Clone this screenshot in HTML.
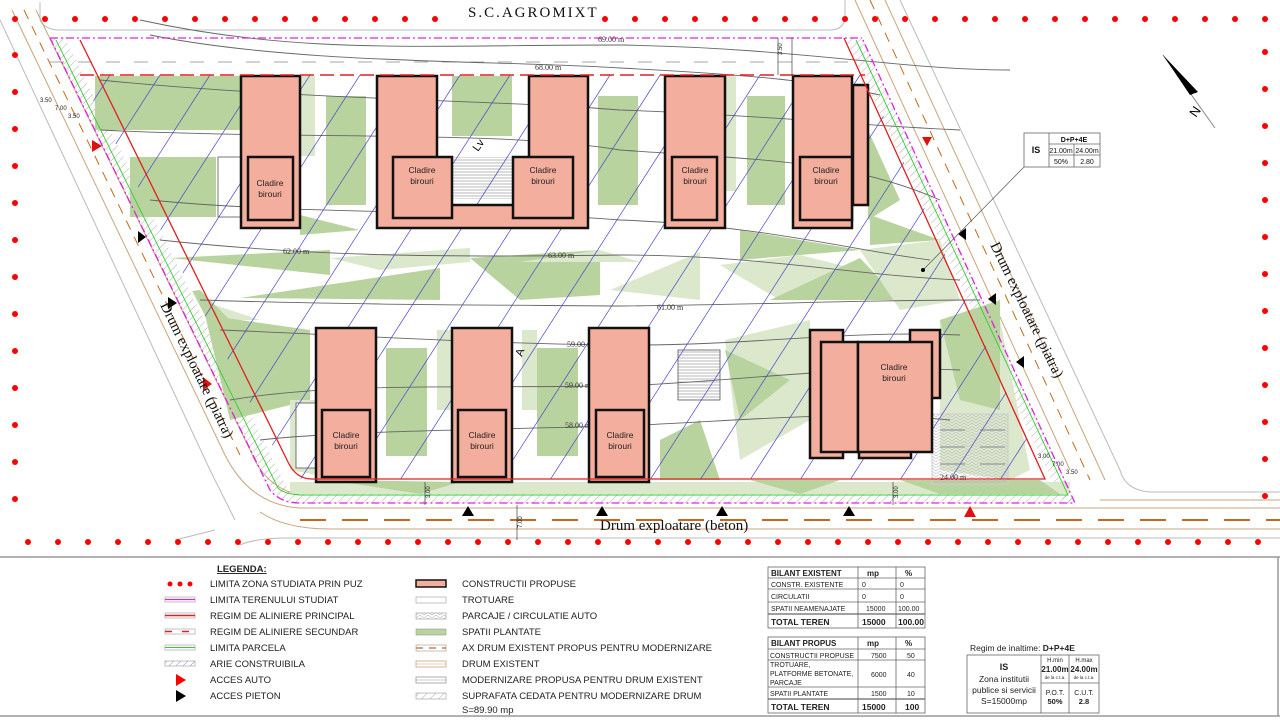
<!DOCTYPE html>
<html><head><meta charset="utf-8">
<style>
html,body{margin:0;padding:0;background:#fff;}
svg{display:block;}
.s{font-family:"Liberation Sans",Arial,sans-serif;}
.r{font-family:"Liberation Serif","Times New Roman",serif;}
</style></head>
<body>
<svg width="1280" height="720" viewBox="0 0 1280 720" xmlns="http://www.w3.org/2000/svg">
<defs>
  <clipPath id="site"><path d="M80,75 L865,75 L1045,479 L305,479 Q288,479 280,460 Z"/></clipPath>
  <pattern id="hatch" width="6" height="6" patternUnits="userSpaceOnUse" patternTransform="rotate(45)">
    <line x1="0" y1="0" x2="0" y2="6" stroke="#999" stroke-width="0.8"/></pattern>
  <pattern id="ahatch" width="5" height="5" patternUnits="userSpaceOnUse" patternTransform="rotate(45)">
    <line x1="0" y1="0" x2="0" y2="5" stroke="#6a6ad0" stroke-width="0.8"/></pattern>
  <pattern id="park" width="8" height="6" patternUnits="userSpaceOnUse">
    <path d="M0,3 L4,0 L8,3 M0,6 L4,3 L8,6" stroke="#bbb" fill="none" stroke-width="0.6"/></pattern>
  <pattern id="stairs" width="10" height="3" patternUnits="userSpaceOnUse">
    <line x1="0" y1="1" x2="10" y2="1" stroke="#999" stroke-width="0.7"/></pattern>
</defs>
<rect width="1280" height="720" fill="#fff"/>

<!-- top road -->
<path d="M40,2 L40,20 Q45,30 60,30 L830,30 Q845,30 845,15 L845,0" fill="none" stroke="#bbb" stroke-width="1"/>
<line x1="50" y1="62" x2="860" y2="62" stroke="#888" stroke-width="0.8" stroke-dasharray="14,14"/>

<!-- left diagonal road -->
<g fill="none" stroke-width="1">
  <path d="M0,20 L210,470 L235,520" stroke="#bbb"/>
  <path d="M12,10 L225,455 Q250,505 300,508 L1280,508" stroke="#c9a47a"/>
  <path d="M24,10 L240,455" stroke="#c26a1a" stroke-dasharray="10,8"/>
  <path d="M36,10 L250,450 Q265,488 300,495" stroke="#c9a47a"/>
  <path d="M300,520 L1280,520" stroke="#c26a1a" stroke-width="2" stroke-dasharray="26,16"/>
  <path d="M260,512 Q285,529 330,529 L1280,529" stroke="#c9a47a"/>
  <path d="M240,545 Q255,538 290,538 L1280,538" stroke="#bbb"/>
  <path d="M215,530 L175,540" stroke="#bbb"/>
  <!-- right road -->
  <path d="M855,0 L1070,470" stroke="#c9a47a"/>
  <path d="M870,0 L1090,480" stroke="#c26a1a" stroke-dasharray="10,8"/>
  <path d="M885,0 L1105,480" stroke="#c9a47a"/>
  <path d="M900,0 L1120,470 Q1125,490 1150,492 L1280,492" stroke="#bbb"/>
  <path d="M1100,500 L1280,500" stroke="#c9a47a"/>
</g>

<!-- site hatched strips (cedata) -->
<path d="M50,38 L65,38 L288,490 L300,492 L1068,492 L1075,503 L300,503 Q272,500 265,480 Z" fill="url(#hatch)"/>
<path d="M845,38 L862,38 L1075,503 L1060,498 Z" fill="url(#hatch)"/>

<!-- greens -->
<g>
  <rect x="95" y="76" width="145" height="54" fill="#b8d39e"/>
  <rect x="130" y="157" width="86" height="60" fill="#b8d39e"/>
  <rect x="300" y="76" width="15" height="80" fill="#dbe8cc"/>
  <rect x="326" y="96" width="40" height="109" fill="#b8d39e"/>
  <rect x="452" y="76" width="60" height="60" fill="#b8d39e"/>
  <rect x="598" y="96" width="40" height="109" fill="#b8d39e"/>
  <rect x="724" y="76" width="12" height="115" fill="#dbe8cc"/>
  <rect x="747" y="96" width="38" height="109" fill="#b8d39e"/>
  <polygon points="868,130 900,200 868,220" fill="#b8d39e"/>
  <polygon points="870,215 940,240 870,245" fill="#b8d39e"/>
  <polygon points="300,215 360,230 300,235" fill="#b8d39e"/>
  <polygon points="740,230 860,250 740,260" fill="#b8d39e"/>
  <!-- middle belt -->
  <polygon points="170,258 330,250 330,275" fill="#b8d39e"/>
  <polygon points="240,298 440,268 440,300" fill="#b8d39e"/>
  <polygon points="330,258 470,248 470,262 380,270" fill="#dbe8cc"/>
  <polygon points="470,258 600,250 600,295 520,300" fill="#b8d39e"/>
  <polygon points="520,262 600,250 640,262" fill="#dbe8cc"/>
  <polygon points="610,290 700,252 700,300" fill="#dbe8cc"/>
  <polygon points="720,265 800,255 860,270 780,300" fill="#dbe8cc"/>
  <polygon points="770,300 860,258 900,300" fill="#b8d39e"/>
  <polygon points="860,250 940,240 960,300 900,310" fill="#dbe8cc"/>
  <polygon points="200,300 260,320 210,320" fill="#dbe8cc"/>
  <polygon points="205,315 310,330 310,400 230,420" fill="#b8d39e"/>
  <!-- bottom row greens -->
  <rect x="386" y="348" width="41" height="108" fill="#b8d39e"/>
  <rect x="437" y="330" width="15" height="80" fill="#dbe8cc"/>
  <rect x="537" y="348" width="41" height="108" fill="#b8d39e"/>
  <rect x="522" y="330" width="15" height="80" fill="#dbe8cc"/>
  <polygon points="290,400 316,400 316,475 290,470" fill="#dbe8cc"/>
  <polygon points="725,340 810,320 810,420 740,460" fill="#dbe8cc"/>
  <polygon points="725,350 790,380 740,420" fill="#b8d39e"/>
  <polygon points="940,320 1000,320 1030,470 1010,480 940,470" fill="#dbe8cc"/>
  <polygon points="940,320 1000,300 1000,410 960,400" fill="#b8d39e"/>
  <polygon points="660,440 700,420 720,480 660,480" fill="#b8d39e"/>
  <rect x="290" y="482" width="780" height="12" fill="#dbe8cc"/>
  <polygon points="330,480 460,482 420,494" fill="#b8d39e"/>
  <polygon points="750,480 840,480 800,494" fill="#b8d39e"/>
  <polygon points="900,480 1040,480 1060,494 940,494" fill="#b8d39e"/>
  <polygon points="120,300 200,290 240,330 150,350" fill="#b8d39e" clip-path="url(#site)"/>
</g>

<!-- sidewalks outlines -->
<g fill="#fff" stroke="#555" stroke-width="0.8">
  <rect x="218" y="157" width="23" height="60"/>
  <rect x="296" y="403" width="20" height="65"/>
  <rect x="678" y="350" width="42" height="50" fill="url(#stairs)"/>
</g>
<rect x="453" y="157" width="60" height="42" fill="url(#stairs)"/>
<rect x="932" y="414" width="76" height="70" fill="url(#park)" stroke="#ccc"/>
<g stroke="#999" stroke-width="1.2">
  <line x1="940" y1="430" x2="965" y2="430"/><line x1="980" y1="430" x2="1005" y2="430"/>
  <line x1="940" y1="447" x2="965" y2="447"/><line x1="980" y1="447" x2="1005" y2="447"/>
  <line x1="940" y1="464" x2="965" y2="464"/><line x1="980" y1="464" x2="1005" y2="464"/>
</g>

<!-- contour lines -->
<g fill="none" stroke="#666" stroke-width="0.9">
  <path d="M140,20 C300,55 420,45 620,45 C800,48 900,70 1010,70"/>
  <path d="M150,35 C300,65 500,60 620,68 C760,75 820,82 880,95"/>
  <path d="M100,80 C300,100 500,100 620,110 C760,115 850,125 960,130"/>
  <path d="M100,130 C300,140 500,130 620,150 C760,160 850,160 940,200"/>
  <path d="M150,200 C300,215 500,210 620,220 C760,225 850,250 930,260"/>
  <path d="M160,240 C300,255 420,258 620,255 C760,255 850,275 960,280"/>
  <path d="M200,300 C350,305 500,305 620,306 C760,305 850,300 980,300"/>
  <path d="M220,330 C350,335 500,345 640,345 C750,345 850,330 960,335"/>
  <path d="M230,400 C350,380 500,390 640,385 C750,380 850,365 960,370"/>
  <path d="M260,440 C350,430 500,430 640,425 C750,420 850,410 950,420"/>
</g>
<g class="r" font-size="8" fill="#333">
  <text x="598" y="42">69.00 m</text><text x="535" y="70">68.00 m</text>
  <text x="535" y="108">67.00 m</text><text x="532" y="143">66.00 m</text>
  <text x="540" y="218">64.00 m</text><text x="283" y="254">62.00 m</text>
  <text x="548" y="258">63.00 m</text><text x="657" y="310">61.00 m</text>
  <text x="567" y="347">59.00 m</text><text x="565" y="388">59.00 m</text>
  <text x="565" y="428">58.00 m</text><text x="940" y="480">24.00 m</text>
</g>

<!-- construible area hatching -->
<g clip-path="url(#site)" stroke="#4848c8" stroke-width="0.7">
  <line x1="-200" y1="480" x2="60" y2="75"/><line x1="-150" y1="480" x2="110" y2="75"/>
  <line x1="-100" y1="480" x2="160" y2="75"/><line x1="-50" y1="480" x2="210" y2="75"/>
  <line x1="0" y1="480" x2="260" y2="75"/><line x1="50" y1="480" x2="310" y2="75"/>
  <line x1="100" y1="480" x2="360" y2="75"/><line x1="150" y1="480" x2="410" y2="75"/>
  <line x1="200" y1="480" x2="460" y2="75"/><line x1="250" y1="480" x2="510" y2="75"/>
  <line x1="300" y1="480" x2="560" y2="75"/><line x1="350" y1="480" x2="610" y2="75"/>
  <line x1="400" y1="480" x2="660" y2="75"/><line x1="450" y1="480" x2="710" y2="75"/>
  <line x1="500" y1="480" x2="760" y2="75"/><line x1="550" y1="480" x2="810" y2="75"/>
  <line x1="600" y1="480" x2="860" y2="75"/><line x1="650" y1="480" x2="910" y2="75"/>
  <line x1="700" y1="480" x2="960" y2="75"/><line x1="750" y1="480" x2="1010" y2="75"/>
  <line x1="800" y1="480" x2="1060" y2="75"/><line x1="850" y1="480" x2="1110" y2="75"/>
  <line x1="900" y1="480" x2="1160" y2="75"/><line x1="950" y1="480" x2="1210" y2="75"/>
  <line x1="1000" y1="480" x2="1260" y2="75"/>
</g>

<!-- buildings -->
<g fill="#f4ae9e" stroke="#111" stroke-width="2.5">
  <rect x="241" y="76" width="59" height="152"/>
  <rect x="248" y="157" width="45" height="63"/>
  <path d="M377,76 H437 V205 H529 V76 H588 V228 H377 Z"/>
  <rect x="393" y="157" width="59" height="61"/>
  <rect x="513" y="157" width="60" height="61"/>
  <rect x="665" y="76" width="60" height="152"/>
  <rect x="672" y="157" width="45" height="63"/>
  <rect x="853" y="85" width="15" height="120"/>
  <path d="M793,76 H852 V228 H793 Z"/>
  <rect x="800" y="157" width="52" height="63"/>
  <rect x="316" y="328" width="60" height="154"/>
  <rect x="322" y="410" width="48" height="67"/>
  <rect x="452" y="328" width="60" height="154"/>
  <rect x="458" y="410" width="48" height="67"/>
  <rect x="589" y="328" width="60" height="154"/>
  <rect x="596" y="410" width="48" height="67"/>
  <rect x="810" y="330" width="33" height="128"/>
  <rect x="910" y="330" width="30" height="68"/>
  <rect x="859" y="440" width="52" height="18"/>
  <rect x="821" y="342" width="37" height="110"/>
  <rect x="858" y="342" width="74" height="110"/>
</g>
<g class="s" font-size="8.5" fill="#222" text-anchor="middle">
  <text x="270" y="186">Cladire</text><text x="270" y="197">birouri</text>
  <text x="422" y="173">Cladire</text><text x="422" y="184">birouri</text>
  <text x="543" y="173">Cladire</text><text x="543" y="184">birouri</text>
  <text x="695" y="173">Cladire</text><text x="695" y="184">birouri</text>
  <text x="826" y="173">Cladire</text><text x="826" y="184">birouri</text>
  <text x="346" y="438">Cladire</text><text x="346" y="449">birouri</text>
  <text x="482" y="438">Cladire</text><text x="482" y="449">birouri</text>
  <text x="620" y="438">Cladire</text><text x="620" y="449">birouri</text>
  <text x="894" y="370">Cladire</text><text x="894" y="381">birouri</text>
</g>
<text x="478" y="152" class="s" font-size="11" transform="rotate(-55 478 152)">Lv</text>
<text x="522" y="357" class="s" font-size="11" transform="rotate(-70 522 357)">A</text>

<!-- alignment lines -->
<path d="M80,75 L865,75" stroke="#e02020" stroke-width="1.6" stroke-dasharray="14,6"/>
<path d="M80,40 L288,462 Q296,479 312,479 L1045,479 L844,38" fill="none" stroke="#e02020" stroke-width="1.3"/>
<path d="M56,40 L278,488 Q284,494 300,495 L1068,495 L856,40" fill="none" stroke="#3c3" stroke-width="0.9"/>
<path d="M50,38 L862,38 M50,38 L270,490 Q280,503 300,503 L1075,503 L862,38" fill="none" stroke="#e020e0" stroke-width="1.3" stroke-dasharray="8,3,2,3"/>

<!-- access arrows -->
<g fill="#e01010">
  <polygon points="92,140 102,146 92,152" transform="rotate(0)"/>
  <polygon points="203,377 212,384 203,390"/>
  <polygon points="922,137 932,137 927,146"/>
  <polygon points="964,517 976,517 970,506"/>
</g>
<g fill="#000">
  <polygon points="138,231 146,237 138,243"/>
  <polygon points="168,297 177,303 168,309"/>
  <polygon points="966,228 966,240 958,234"/>
  <polygon points="996,293 996,305 988,299"/>
  <polygon points="1024,356 1024,368 1016,362"/>
  <polygon points="462,516 474,516 468,506"/>
  <polygon points="596,516 608,516 602,506"/>
  <polygon points="716,516 728,516 722,506"/>
  <polygon points="843,516 855,516 849,506"/>
</g>

<!-- dimension bits -->
<g class="s" font-size="6" fill="#222">
  <text x="40" y="102">3.50</text><text x="55" y="110">7.00</text><text x="68" y="118">3.50</text>
  <text x="1038" y="458">3.00</text><text x="1052" y="466">7.00</text><text x="1066" y="474">3.50</text>
  <text x="782" y="55" transform="rotate(-90 782 55)">3.50</text>
  <text x="430" y="498" transform="rotate(-90 430 498)">3.00</text>
  <text x="898" y="498" transform="rotate(-90 898 498)">3.00</text>
  <text x="522" y="528" transform="rotate(-90 522 528)">7.00</text>
</g>
<g stroke="#222" stroke-width="0.6">
  <line x1="778" y1="38" x2="778" y2="75"/><line x1="792" y1="38" x2="792" y2="75"/>
  <line x1="425" y1="482" x2="425" y2="505"/><line x1="893" y1="482" x2="893" y2="505"/>
  <line x1="517" y1="505" x2="517" y2="540"/>
</g>

<!-- red dot study limit -->
<g fill="#f00">
  <circle cx="15" cy="19" r="3"/><circle cx="45" cy="19" r="3"/><circle cx="75" cy="19" r="3"/><circle cx="105" cy="19" r="3"/><circle cx="135" cy="19" r="3"/><circle cx="165" cy="19" r="3"/><circle cx="195" cy="19" r="3"/><circle cx="225" cy="19" r="3"/><circle cx="255" cy="19" r="3"/><circle cx="285" cy="19" r="3"/><circle cx="315" cy="19" r="3"/><circle cx="345" cy="19" r="3"/><circle cx="375" cy="19" r="3"/><circle cx="405" cy="19" r="3"/><circle cx="435" cy="19" r="3"/><circle cx="605" cy="19" r="3"/><circle cx="635" cy="19" r="3"/><circle cx="665" cy="19" r="3"/><circle cx="695" cy="19" r="3"/><circle cx="725" cy="19" r="3"/><circle cx="755" cy="19" r="3"/><circle cx="785" cy="19" r="3"/><circle cx="815" cy="19" r="3"/><circle cx="845" cy="19" r="3"/><circle cx="875" cy="19" r="3"/><circle cx="905" cy="19" r="3"/><circle cx="935" cy="19" r="3"/><circle cx="965" cy="19" r="3"/><circle cx="995" cy="19" r="3"/><circle cx="1025" cy="19" r="3"/><circle cx="1055" cy="19" r="3"/><circle cx="1085" cy="19" r="3"/><circle cx="1115" cy="19" r="3"/><circle cx="1145" cy="19" r="3"/><circle cx="1175" cy="19" r="3"/><circle cx="1205" cy="19" r="3"/><circle cx="1235" cy="19" r="3"/><circle cx="1265" cy="19" r="3"/>
  <circle cx="15" cy="55" r="3"/><circle cx="15" cy="92" r="3"/><circle cx="15" cy="129" r="3"/><circle cx="15" cy="166" r="3"/><circle cx="15" cy="203" r="3"/><circle cx="15" cy="240" r="3"/><circle cx="15" cy="277" r="3"/><circle cx="15" cy="314" r="3"/><circle cx="15" cy="351" r="3"/><circle cx="15" cy="388" r="3"/><circle cx="15" cy="425" r="3"/><circle cx="15" cy="462" r="3"/><circle cx="15" cy="499" r="3"/>
  <circle cx="1265" cy="52" r="3"/><circle cx="1265" cy="89" r="3"/><circle cx="1265" cy="126" r="3"/><circle cx="1265" cy="163" r="3"/><circle cx="1265" cy="200" r="3"/><circle cx="1265" cy="237" r="3"/><circle cx="1265" cy="274" r="3"/><circle cx="1265" cy="311" r="3"/><circle cx="1265" cy="348" r="3"/><circle cx="1265" cy="385" r="3"/><circle cx="1265" cy="422" r="3"/><circle cx="1265" cy="459" r="3"/><circle cx="1265" cy="496" r="3"/>
  <circle cx="28" cy="542" r="3"/><circle cx="58" cy="542" r="3"/><circle cx="88" cy="542" r="3"/><circle cx="118" cy="542" r="3"/><circle cx="148" cy="542" r="3"/><circle cx="178" cy="542" r="3"/><circle cx="208" cy="542" r="3"/><circle cx="238" cy="542" r="3"/><circle cx="268" cy="542" r="3"/><circle cx="298" cy="542" r="3"/><circle cx="328" cy="542" r="3"/><circle cx="358" cy="542" r="3"/><circle cx="388" cy="542" r="3"/><circle cx="418" cy="542" r="3"/><circle cx="448" cy="542" r="3"/><circle cx="478" cy="542" r="3"/><circle cx="508" cy="542" r="3"/><circle cx="538" cy="542" r="3"/><circle cx="568" cy="542" r="3"/><circle cx="598" cy="542" r="3"/><circle cx="628" cy="542" r="3"/><circle cx="658" cy="542" r="3"/><circle cx="688" cy="542" r="3"/><circle cx="718" cy="542" r="3"/><circle cx="748" cy="542" r="3"/><circle cx="778" cy="542" r="3"/><circle cx="808" cy="542" r="3"/><circle cx="838" cy="542" r="3"/><circle cx="868" cy="542" r="3"/><circle cx="898" cy="542" r="3"/><circle cx="928" cy="542" r="3"/><circle cx="958" cy="542" r="3"/><circle cx="988" cy="542" r="3"/><circle cx="1018" cy="542" r="3"/><circle cx="1048" cy="542" r="3"/><circle cx="1078" cy="542" r="3"/><circle cx="1108" cy="542" r="3"/><circle cx="1138" cy="542" r="3"/><circle cx="1168" cy="542" r="3"/><circle cx="1198" cy="542" r="3"/><circle cx="1228" cy="542" r="3"/><circle cx="1258" cy="542" r="3"/>
</g>

<!-- labels -->
<text x="468" y="17" class="r" font-size="15" fill="#111" letter-spacing="2">S.C.AGROMIXT</text>
<text x="600" y="530" class="r" font-size="15" fill="#111">Drum exploatare (beton)</text>
<text x="0" y="0" class="r" font-size="15" fill="#111" transform="translate(160,305) rotate(64)">Drum exploatare (piatra)</text>
<text x="0" y="0" class="r" font-size="15" fill="#111" transform="translate(990,245) rotate(64)">Drum exploatare (piatra)</text>

<!-- north arrow -->
<line x1="1163" y1="55" x2="1215" y2="128" stroke="#888" stroke-width="1"/>
<polygon points="1163,55 1198,92 1190,95" fill="#000"/>
<text x="0" y="0" class="s" font-size="13" transform="translate(1196,118) rotate(-55)">N</text>

<!-- IS mini table -->
<line x1="1024" y1="167" x2="923" y2="270" stroke="#555" stroke-width="0.7"/>
<circle cx="923" cy="270" r="2" fill="#000"/>
<g fill="#fff" stroke="#666" stroke-width="0.8">
  <rect x="1024" y="133" width="76" height="34"/>
  <line x1="1049" y1="133" x2="1049" y2="167"/><line x1="1074" y1="144" x2="1074" y2="167"/>
  <line x1="1049" y1="144" x2="1100" y2="144"/><line x1="1049" y1="155" x2="1100" y2="155"/>
</g>
<g class="s" font-size="7" fill="#111" text-anchor="middle" font-weight="bold">
  <text x="1036" y="153" font-size="9">IS</text><text x="1074" y="142">D+P+4E</text>
  <text x="1061" y="153" font-weight="normal">21.00m</text><text x="1087" y="153" font-weight="normal">24.00m</text>
  <text x="1061" y="164" font-weight="normal">50%</text><text x="1087" y="164" font-weight="normal">2.80</text>
</g>

<!-- separators -->
<line x1="0" y1="557" x2="1280" y2="557" stroke="#999" stroke-width="1.5"/>
<line x1="0" y1="716" x2="1280" y2="716" stroke="#999" stroke-width="1.5"/>
<line x1="1278" y1="557" x2="1278" y2="716" stroke="#999" stroke-width="1.5"/>

<!-- legend -->
<g class="s" font-size="9.5" fill="#222">
  <text x="217" y="572" font-weight="bold" text-decoration="underline">LEGENDA:</text>
  <text x="210" y="587">LIMITA ZONA STUDIATA PRIN PUZ</text>
  <text x="210" y="603">LIMITA TERENULUI STUDIAT</text>
  <text x="210" y="619">REGIM DE ALINIERE PRINCIPAL</text>
  <text x="210" y="635">REGIM DE ALINIERE SECUNDAR</text>
  <text x="210" y="651">LIMITA PARCELA</text>
  <text x="210" y="667">ARIE CONSTRUIBILA</text>
  <text x="210" y="683">ACCES AUTO</text>
  <text x="210" y="699">ACCES PIETON</text>
  <text x="462" y="587">CONSTRUCTII  PROPUSE</text>
  <text x="462" y="603">TROTUARE</text>
  <text x="462" y="619">PARCAJE / CIRCULATIE AUTO</text>
  <text x="462" y="635">SPATII PLANTATE</text>
  <text x="462" y="651">AX DRUM EXISTENT PROPUS PENTRU MODERNIZARE</text>
  <text x="462" y="667">DRUM EXISTENT</text>
  <text x="462" y="683">MODERNIZARE PROPUSA PENTRU DRUM EXISTENT</text>
  <text x="462" y="699">SUPRAFATA CEDATA PENTRU MODERNIZARE DRUM</text>
  <text x="462" y="713">S=89.90 mp</text>
</g>
<g>
  <circle cx="170" cy="584" r="2.5" fill="#f00"/><circle cx="180" cy="584" r="2.5" fill="#f00"/><circle cx="190" cy="584" r="2.5" fill="#f00"/>
  <rect x="165" y="597" width="30" height="5" fill="#fff" stroke="#999" stroke-width="0.6"/><line x1="165" y1="599.5" x2="195" y2="599.5" stroke="#e020e0" stroke-width="1.2"/>
  <rect x="165" y="613" width="30" height="5" fill="#fff" stroke="#999" stroke-width="0.6"/><line x1="165" y1="615.5" x2="195" y2="615.5" stroke="#e02020" stroke-width="1.5"/>
  <rect x="165" y="629" width="30" height="5" fill="#fff" stroke="#999" stroke-width="0.6"/><line x1="165" y1="631.5" x2="195" y2="631.5" stroke="#e02020" stroke-width="1.5" stroke-dasharray="7,10"/>
  <rect x="165" y="645" width="30" height="5" fill="#fff" stroke="#999" stroke-width="0.6"/><line x1="165" y1="647.5" x2="195" y2="647.5" stroke="#3c3" stroke-width="1"/>
  <rect x="165" y="661" width="30" height="5" fill="url(#ahatch)" stroke="#999" stroke-width="0.6"/>
  <polygon points="176,674 186,680 176,686" fill="#f00"/>
  <polygon points="176,690 186,696 176,702" fill="#000"/>
  <rect x="416" y="580" width="30" height="7" fill="#f4ae9e" stroke="#111" stroke-width="1.5"/>
  <rect x="416" y="597" width="30" height="6" fill="#fff" stroke="#999" stroke-width="0.6"/>
  <rect x="416" y="613" width="30" height="6" fill="url(#park)" stroke="#999" stroke-width="0.6"/>
  <rect x="416" y="629" width="30" height="6" fill="#b8d39e" stroke="#999" stroke-width="0.6"/>
  <rect x="416" y="645" width="30" height="6" fill="#fff" stroke="#999" stroke-width="0.6"/><line x1="416" y1="648" x2="446" y2="648" stroke="#c26a1a" stroke-width="1.2" stroke-dasharray="7,6"/>
  <rect x="416" y="661" width="30" height="6" fill="#fff" stroke="#c9a47a" stroke-width="0.8"/><line x1="416" y1="664" x2="446" y2="664" stroke="#c9a47a" stroke-width="0.6"/>
  <rect x="416" y="677" width="30" height="6" fill="#fff" stroke="#999" stroke-width="0.8"/><line x1="416" y1="680" x2="446" y2="680" stroke="#999" stroke-width="0.6"/>
  <rect x="416" y="693" width="30" height="6" fill="url(#hatch)" stroke="#999" stroke-width="0.6"/>
</g>

<!-- bilant tables -->
<g fill="none" stroke="#666" stroke-width="0.8">
  <rect x="768" y="567" width="157" height="61"/>
  <line x1="858" y1="567" x2="858" y2="628"/><line x1="896" y1="567" x2="896" y2="628"/>
  <line x1="768" y1="578" x2="925" y2="578"/><line x1="768" y1="589" x2="925" y2="589"/>
  <line x1="768" y1="602" x2="925" y2="602"/><line x1="768" y1="614" x2="925" y2="614" stroke-width="1.2"/>
  <rect x="768" y="637" width="157" height="76"/>
  <line x1="858" y1="637" x2="858" y2="713"/><line x1="896" y1="637" x2="896" y2="713"/>
  <line x1="768" y1="649" x2="925" y2="649"/><line x1="768" y1="660" x2="925" y2="660"/>
  <line x1="768" y1="687" x2="925" y2="687"/><line x1="768" y1="699" x2="925" y2="699" stroke-width="1.2"/>
</g>
<g class="s" font-size="7" fill="#222">
  <text x="771" y="576" font-size="8" font-weight="bold">BILANT EXISTENT</text>
  <text x="867" y="576" font-size="8" font-weight="bold">mp</text><text x="905" y="576" font-size="8" font-weight="bold">%</text>
  <text x="771" y="587">CONSTR. EXISTENTE</text><text x="862" y="587">0</text><text x="900" y="587">0</text>
  <text x="771" y="599">CIRCULATII</text><text x="862" y="599">0</text><text x="900" y="599">0</text>
  <text x="771" y="611">SPATII  NEAMENAJATE</text><text x="866" y="611">15000</text><text x="898" y="611">100.00</text>
  <text x="771" y="625" font-size="8.5" font-weight="bold">TOTAL TEREN</text><text x="862" y="625" font-size="8.5" font-weight="bold">15000</text><text x="898" y="625" font-size="8.5" font-weight="bold">100.00</text>
  <text x="771" y="646" font-size="8" font-weight="bold">BILANT PROPUS</text>
  <text x="867" y="646" font-size="8" font-weight="bold">mp</text><text x="905" y="646" font-size="8" font-weight="bold">%</text>
  <text x="770" y="658">CONSTRUCTII PROPUSE</text><text x="871" y="658">7500</text><text x="907" y="658">50</text>
  <text x="770" y="667">TROTUARE,</text><text x="770" y="676">PLATFORME BETONATE,</text><text x="770" y="685">PARCAJE</text>
  <text x="871" y="677">6000</text><text x="907" y="677">40</text>
  <text x="770" y="696">SPATII PLANTATE</text><text x="871" y="696">1500</text><text x="907" y="696">10</text>
  <text x="771" y="710" font-size="8.5" font-weight="bold">TOTAL  TEREN</text><text x="862" y="710" font-size="8.5" font-weight="bold">15000</text><text x="905" y="710" font-size="8.5" font-weight="bold">100</text>
</g>

<!-- regim table -->
<text x="970" y="651" class="s" font-size="8.5" fill="#222">Regim de inaltime: <tspan font-weight="bold">D+P+4E</tspan></text>
<g fill="none" stroke="#666" stroke-width="0.8">
  <rect x="967" y="655" width="132" height="58"/>
  <line x1="1041" y1="655" x2="1041" y2="713"/><line x1="1069" y1="655" x2="1069" y2="713"/>
  <line x1="1041" y1="683" x2="1099" y2="683"/>
</g>
<g class="s" fill="#222" text-anchor="middle">
  <text x="1004" y="670" font-size="9" font-weight="bold">IS</text>
  <text x="1004" y="682" font-size="8.5">Zona institutii</text>
  <text x="1004" y="693" font-size="8.5">publice si servicii</text>
  <text x="1004" y="704" font-size="8.5">S=15000mp</text>
  <text x="1055" y="662" font-size="6">H.min</text><text x="1084" y="662" font-size="6">H.max</text>
  <text x="1055" y="672" font-size="8" font-weight="bold">21.00m</text><text x="1084" y="672" font-size="8" font-weight="bold">24.00m</text>
  <text x="1055" y="679" font-size="4.5">de la c.t.a.</text><text x="1084" y="679" font-size="4.5">de la c.t.a.</text>
  <text x="1055" y="695" font-size="7">P.O.T.</text><text x="1084" y="695" font-size="7">C.U.T.</text>
  <text x="1055" y="704" font-size="7.5" font-weight="bold">50%</text><text x="1084" y="704" font-size="7.5" font-weight="bold">2.8</text>
</g>
</svg>
</body></html>
